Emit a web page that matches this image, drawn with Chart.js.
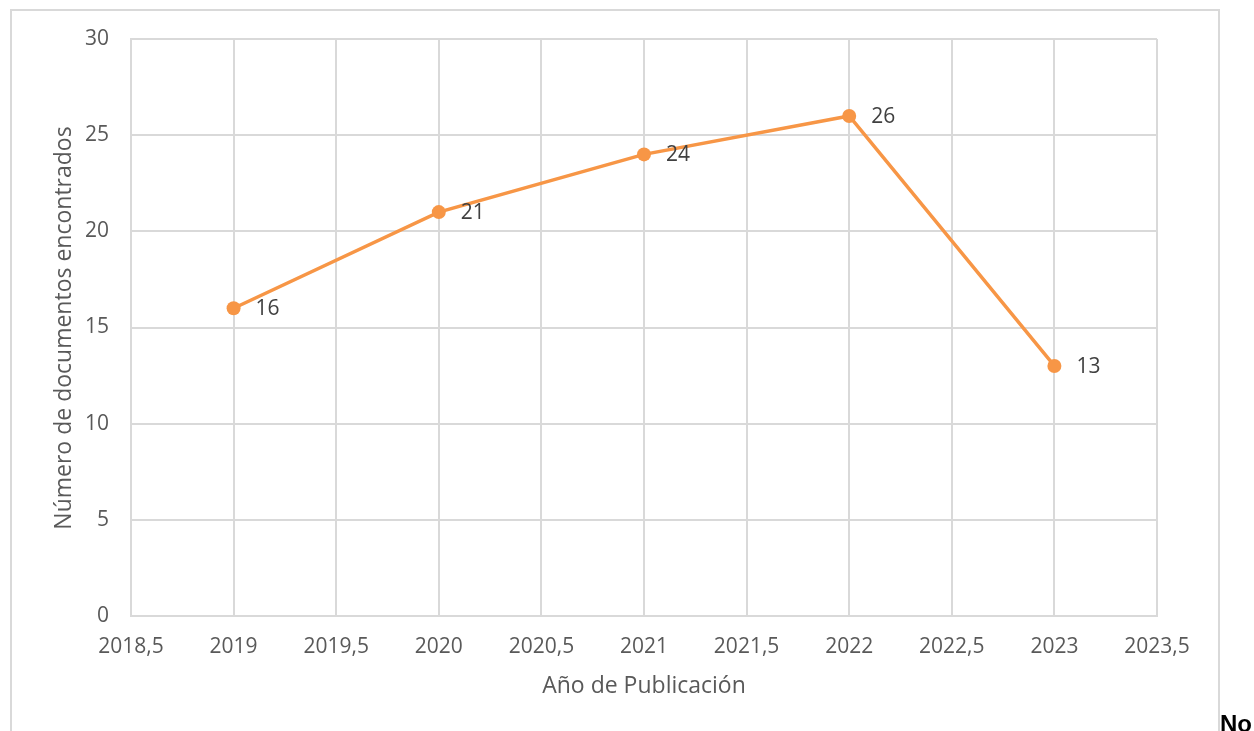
<!DOCTYPE html>
<html>
<head>
<meta charset="utf-8">
<script src="https://cdn.jsdelivr.net/npm/chart.js@4/dist/chart.umd.min.js"></script>
<style>
  html, body { margin: 0; padding: 0; background: #fff; overflow: hidden; }
  #frame { position: absolute; left: 10px; top: 9px; width: 1206px; height: 760px; border: 2px solid #d9d9d9; }
  #wrap { position: absolute; left: 0; top: 0; width: 1254px; height: 731px; }
  #note { position: absolute; left: 1220px; top: 712px; line-height: 24px; font-family: "Liberation Sans", Arial, sans-serif; font-weight: bold; font-size: 24px; color: #000; }
</style>
</head>
<body>
<div id="frame"></div>
<div id="wrap"><canvas id="c" width="1254" height="731"></canvas></div>
<div id="note">No</div>
<script>
const years = [2019, 2020, 2021, 2022, 2023];
const documentos = [16, 21, 24, 26, 13];
const xTitle = "Año de Publicación";
const yTitle = "Número de documentos encontrados";

const FONT = '"Open Sans", sans-serif';

const labelsPlugin = {
  id: 'labelsPlugin',
  afterDatasetsDraw(chart) {
    const ctx = chart.ctx;
    const meta = chart.getDatasetMeta(0);
    ctx.save();
    ctx.font = '21px ' + FONT;
    ctx.fillStyle = '#404040';
    ctx.textAlign = 'left';
    ctx.textBaseline = 'middle';
    meta.data.forEach((pt, i) => {
      ctx.fillText(String(documentos[i]), pt.x + 22, pt.y + 1);
    });
    ctx.restore();
  },
  afterDraw(chart) {
    const ctx = chart.ctx;
    const a = chart.chartArea;
    ctx.save();
    ctx.font = '23px ' + FONT;
    ctx.fillStyle = '#595959';
    ctx.textAlign = 'center';
    ctx.textBaseline = 'middle';
    ctx.fillText(xTitle, 644, 686);
    ctx.translate(64, 328);
    ctx.rotate(-Math.PI / 2);
    ctx.fillText(yTitle, 0, 0);
    ctx.restore();
  }
};

new Chart(document.getElementById('c'), {
  type: 'scatter',
  data: {
    datasets: [{
      data: years.map((y, i) => ({ x: y, y: documentos[i] })),
      showLine: true,
      borderColor: '#F79646',
      backgroundColor: '#F79646',
      borderWidth: 3.5,
      pointRadius: 7,
      pointHoverRadius: 7,
      pointBorderWidth: 0,
      tension: 0
    }]
  },
  options: {
    responsive: false,
    animation: false,
    events: [],
    layout: { padding: { left: 0, top: 39, right: 97, bottom: 0 } },
    plugins: { legend: { display: false }, tooltip: { enabled: false } },
    scales: {
      x: {
        type: 'linear',
        min: 2018.5,
        max: 2023.5,
        afterFit(s) { s.height = 115; },
        ticks: {
          stepSize: 0.5,
          padding: 18,
          maxRotation: 0,
          autoSkip: false,
          color: '#595959',
          font: { family: FONT, size: 21 },
          callback: v => String(v).replace('.', ',')
        },
        grid: { color: '#d9d9d9', lineWidth: 2, drawTicks: false },
        border: { color: '#d9d9d9', width: 2 }
      },
      y: {
        min: 0,
        max: 30,
        afterFit(s) { s.width = 131; },
        ticks: {
          stepSize: 5,
          padding: 22,
          color: '#595959',
          font: { family: FONT, size: 21 }
        },
        grid: { color: '#d9d9d9', lineWidth: 2, drawTicks: false },
        border: { color: '#d9d9d9', width: 2 }
      }
    }
  },
  plugins: [labelsPlugin]
});
</script>
</body>
</html>
